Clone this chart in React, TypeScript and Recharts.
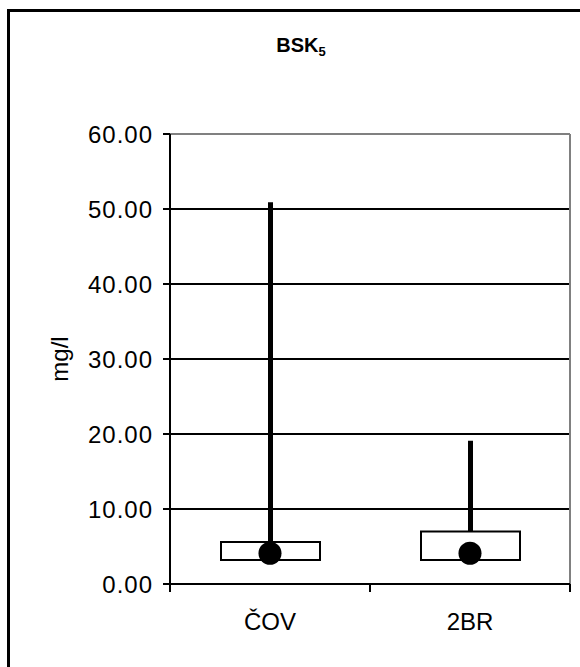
import React from 'react';
import { ComposedChart, Bar, Scatter, XAxis, YAxis, CartesianGrid } from 'recharts';

const categories = ['ČOV', '2BR'];
const q1Values = [3.2, 3.2];
const q3Values = [5.6, 7.0];
const maxValues = [50.9, 19.1];
const meanValues = [4.1, 4.1];
const yTicks = [0, 10, 20, 30, 40, 50, 60];

const data = categories.map((name, i) => ({
  name,
  base: q1Values[i],
  box: q3Values[i] - q1Values[i],
  whisker: maxValues[i] - q3Values[i],
  mean: meanValues[i],
}));

const FONT = '"Liberation Sans", Arial, sans-serif';

const WhiskerShape = (props: any) => {
  const { x, y, width, height } = props;
  return <rect x={x + width / 2 - 2.5} y={y} width={5} height={height} fill="#000" />;
};

const MeanDot = (props: any) => {
  const { cx, cy } = props;
  return <circle cx={cx} cy={cy} r={11.5} fill="#000" />;
};

const CatTick = (props: any) => {
  const { x, y, payload, index, visibleTicksCount } = props;
  const off = payload && payload.offset ? payload.offset : 0;
  const last = index === visibleTicksCount - 1;
  return (
    <g>
      <line x1={x - off} x2={x - off} y1={y} y2={y + 8} stroke="#000" strokeWidth={2} />
      {last && <line x1={x + off} x2={x + off} y1={y} y2={y + 8} stroke="#000" strokeWidth={2} />}
      <text x={x} y={y + 46} textAnchor="middle" fontSize={24} fontFamily={FONT} fill="#000">
        {payload.value}
      </text>
    </g>
  );
};

const YLabel = (props: any) => {
  const vb = props.viewBox || {};
  const cx = vb.x - 22;
  const cy = vb.y + vb.height / 2;
  return (
    <text
      transform={`translate(${cx},${cy}) rotate(-90)`}
      x={0}
      y={0}
      textAnchor="middle"
      fontSize={24}
      fontFamily={FONT}
      fill="#000"
    >
      mg/l
    </text>
  );
};

export default function App() {
  return (
    <div>
      <style>{`html,body{overflow:hidden;}`}</style>
      <div
        style={{
          position: 'absolute',
          left: 7,
          top: 9,
          width: 573,
          height: 658,
          boxSizing: 'border-box',
          borderTop: '3px solid #000',
          borderLeft: '3px solid #000',
        }}
      />
      <svg
        style={{ position: 'absolute', left: 0, top: 0, zIndex: 2 }}
        width={580}
        height={100}
      >
        <text
          x={301}
          y={52}
          textAnchor="middle"
          fontFamily={FONT}
          fontWeight="bold"
          fontSize={20}
          fill="#000"
        >
          BSK
          <tspan fontSize={13} dy={4}>5</tspan>
        </text>
      </svg>
      <div style={{ position: 'absolute', left: 0, top: 0 }}>
        <ComposedChart
          width={580}
          height={667}
          data={data}
          margin={{ top: 134, right: 10, bottom: 33, left: 90 }}
          barCategoryGap={0}
        >
          <CartesianGrid vertical={false} stroke="#000" strokeWidth={2} />
          <CartesianGrid
            horizontalCoordinatesGenerator={({ offset }: any) => [offset.top]}
            verticalCoordinatesGenerator={({ offset }: any) => [offset.left + offset.width]}
            stroke="#808080"
            strokeWidth={2}
          />
          <XAxis
            dataKey="name"
            height={50}
            tickLine={false}
            tickSize={0}
            tickMargin={0}
            axisLine={{ stroke: '#000', strokeWidth: 2 }}
            tick={<CatTick />}
            interval={0}
          />
          <YAxis
            width={80}
            domain={[0, 60]}
            ticks={yTicks}
            interval={0}
            tickFormatter={(v: number) => v.toFixed(2)}
            tickSize={7}
            tickMargin={10}
            tickLine={{ stroke: '#000', strokeWidth: 2 }}
            axisLine={{ stroke: '#000', strokeWidth: 2 }}
            tick={{ fill: '#000', fontSize: 24, fontFamily: FONT, letterSpacing: 1 }}
            label={<YLabel />}
          />
          <Bar dataKey="base" stackId="a" fill="none" barSize={99} isAnimationActive={false} />
          <Bar dataKey="box" stackId="a" fill="#fff" stroke="#000" strokeWidth={2} barSize={99} isAnimationActive={false} />
          <Bar dataKey="whisker" stackId="a" barSize={99} shape={<WhiskerShape />} isAnimationActive={false} />
          <Scatter dataKey="mean" shape={<MeanDot />} isAnimationActive={false} />
        </ComposedChart>
      </div>
    </div>
  );
}
